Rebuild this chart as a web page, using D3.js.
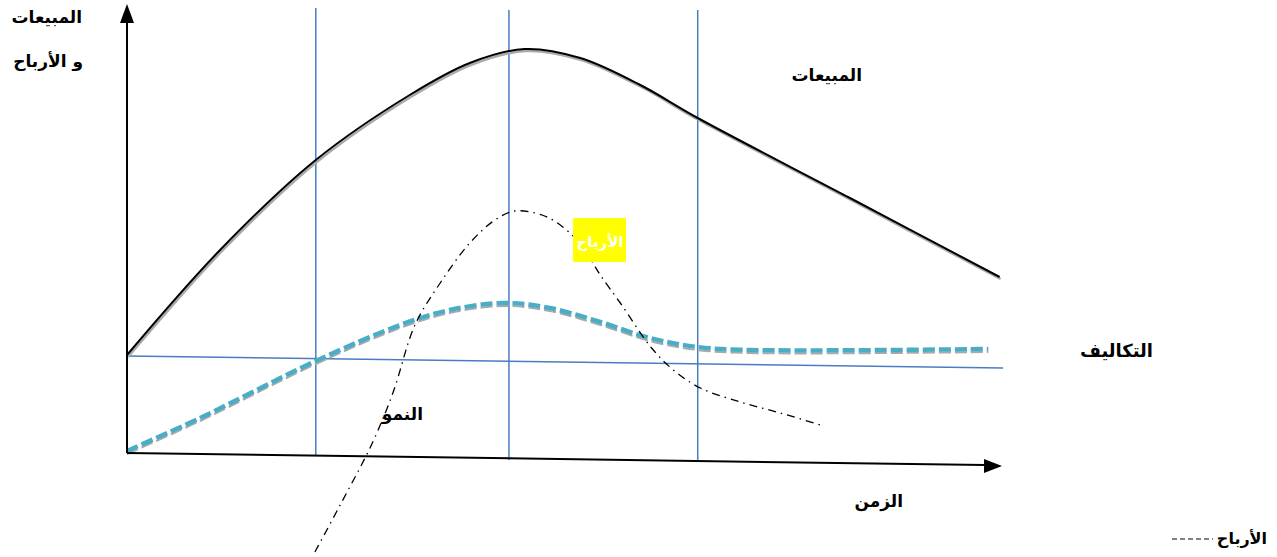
<!DOCTYPE html>
<html><head><meta charset="utf-8">
<script src="https://cdn.jsdelivr.net/npm/d3@7"></script>
<style>
html,body{margin:0;padding:0;background:#fff;}
svg{display:block;}
text{font-family:"DejaVu Sans",sans-serif;font-weight:bold;}
</style></head>
<body>
<svg id="c" width="1277" height="557"></svg>
<script>
// time (0..100) , value (0..110)
const salesT = [0, 10.7, 21.7, 32.5, 39.4, 45.7, 52.1, 59, 65.6, 83.1, 100.3];
const salesV = [24.5, 50.75, 73.25, 89.5, 97.5, 101, 98.75, 92, 83.75, 63.75, 44];
const costsT = [0, 100.7];
const costsV = [24.25, 21.25];
const profitT = [0, 8.4, 21.7, 31.4, 37.1, 43.4, 48.6, 54.4, 60.1, 65.6, 71.6, 99];
const profitV = [0.5, 8.75, 23, 32, 35.75, 37.5, 36.25, 32.75, 28.75, 26.5, 25.75, 26];
const growthT = [21.6, 24.5, 28.2, 30.6, 33.1, 36.0, 39.4, 42.3, 44.6, 47.7, 49.8, 51.7, 53.2, 54.4, 56.7, 60.3, 62.8, 65.9, 70.5, 75.1, 79.7];
const growthV = [-24.75, -13, 2.5, 15.25, 32, 42.5, 52.5, 58.25, 60.5, 59.5, 57, 53.25, 48.75, 44.5, 37.5, 26.25, 20.75, 16.25, 12.75, 10, 7];
const stageT = [21.7, 43.9, 65.6];
const labels = ["المبيعات", "و الأرباح", "المبيعات", "الأرباح", "التكاليف", "النمو", "الزمن", "الأرباح"];

const svg = d3.select("#c");
const x = d3.scaleLinear().domain([0, 100]).range([127, 997]);
const y = d3.scaleLinear().domain([0, 110]).range([453, 13]);
const zip = (a, b) => a.map((t, i) => [t, b[i]]);
const line = d3.line().x(d => x(d[0])).y(d => y(d[1])).curve(d3.curveCatmullRom.alpha(0.5));

// stage vertical lines
const stageTop = [8, 10, 10];
const stageBot = [455, 460, 462];
svg.selectAll(".stage").data(stageT).enter().append("line")
  .attr("x1", d => x(d)).attr("x2", d => x(d))
  .attr("y1", (d, i) => stageTop[i]).attr("y2", (d, i) => stageBot[i])
  .attr("stroke", "#4a7cc4").attr("stroke-width", 1.5);

// costs line
svg.append("path").datum(zip(costsT, costsV))
  .attr("d", d3.line().x(d => x(d[0])).y(d => y(d[1])))
  .attr("fill", "none").attr("stroke", "#4a7cc4").attr("stroke-width", 1.5);

// sales curve (gray shadow + black)
const sales = zip(salesT, salesV);
svg.append("path").datum(sales).attr("d", line)
  .attr("transform", "translate(1,2)")
  .attr("fill", "none").attr("stroke", "#aaa").attr("stroke-width", 2.5);
svg.append("path").datum(sales).attr("d", line)
  .attr("fill", "none").attr("stroke", "#000").attr("stroke-width", 2);

// profit teal dashed
const profit = zip(profitT, profitV);
svg.append("path").datum(profit).attr("d", line)
  .attr("transform", "translate(0,3)")
  .attr("fill", "none").attr("stroke", "#aaa").attr("stroke-width", 2)
  .attr("stroke-dasharray", "12,4");
svg.append("path").datum(profit).attr("d", line)
  .attr("fill", "none").attr("stroke", "#4bacc6").attr("stroke-width", 4.5)
  .attr("stroke-dasharray", "12,4");

// growth dash-dot
svg.append("path").datum(zip(growthT, growthV)).attr("d", line)
  .attr("fill", "none").attr("stroke", "#000").attr("stroke-width", 1.3)
  .attr("stroke-dasharray", "8,5,1.5,5");

// axes
svg.append("line").attr("x1", x(0)).attr("y1", y(0)).attr("x2", x(0)).attr("y2", 22)
  .attr("stroke", "#000").attr("stroke-width", 2);
svg.append("path").attr("d", `M${x(0)},4 L${x(0) - 7},23 L${x(0) + 7},23 Z`).attr("fill", "#000");
svg.append("line").attr("x1", x(0)).attr("y1", y(0)).attr("x2", 985).attr("y2", 465)
  .attr("stroke", "#000").attr("stroke-width", 2);
svg.append("path").attr("d", `M1002,466 L984,459 L984,473 Z`).attr("fill", "#000");

// labels
const pos = [
  {x: 82, y: 23, a: "end", s: 17},
  {x: 83, y: 67, a: "end", s: 17},
  {x: 862, y: 81, a: "end", s: 17},
  {x: 600, y: 247, a: "middle", s: 15},
  {x: 1153, y: 357, a: "end", s: 18},
  {x: 423, y: 420, a: "end", s: 17},
  {x: 903, y: 507, a: "end", s: 17},
  {x: 1267, y: 544, a: "end", s: 16}
];
// yellow box
svg.append("rect").attr("x", 573).attr("y", 218).attr("width", 53).attr("height", 44).attr("fill", "#ffff00");
svg.selectAll(".lab").data(labels).enter().append("text")
  .attr("x", (d, i) => pos[i].x).attr("y", (d, i) => pos[i].y)
  .attr("text-anchor", (d, i) => pos[i].a)
  .attr("font-size", (d, i) => pos[i].s)
  .attr("fill", (d, i) => i === 3 ? "#fff" : "#000")
  .text(d => d);

// legend dashes
svg.append("line").attr("x1", 1172).attr("x2", 1213).attr("y1", 539).attr("y2", 539)
  .attr("stroke", "#000").attr("stroke-width", 1).attr("stroke-dasharray", "5,3");
</script>
</body></html>
